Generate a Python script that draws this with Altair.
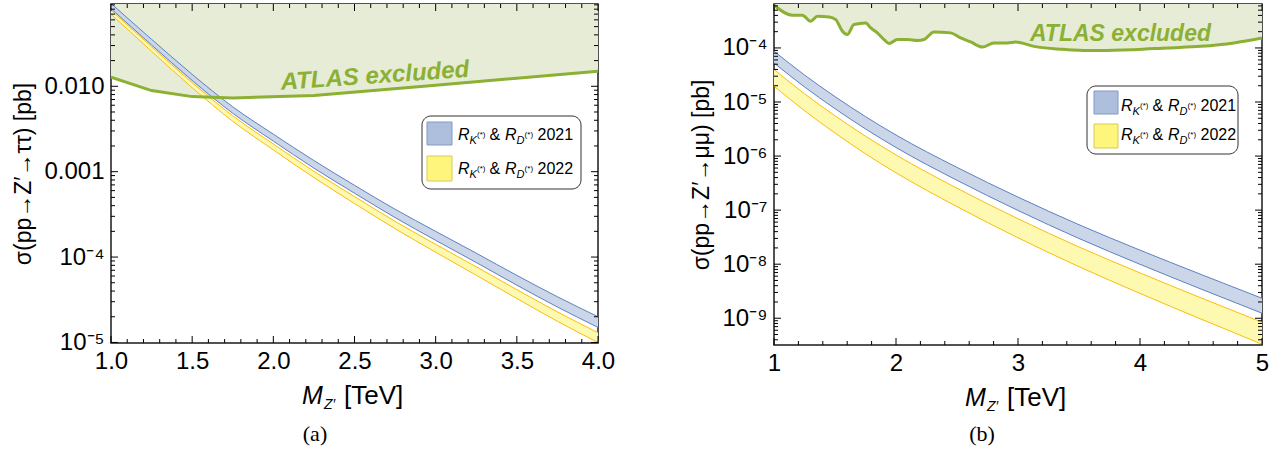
import altair as alt
import pandas as pd

FONT = "Liberation Sans"

# ---------------- panel (a): pp -> Z' -> tau tau ----------------
a_mass = [1.0, 1.25, 1.5, 1.75, 2.0, 2.25, 2.5, 2.75, 3.0, 3.25, 3.5, 3.75, 4.0]
a_2021_hi = [0.0933, 0.0355, 0.0138, 0.00575, 0.00275, 0.00135, 6.92e-4, 3.63e-4, 2.00e-4, 1.11e-4, 6.10e-5, 3.43e-5, 2.00e-5]
a_2021_lo = [0.0813, 0.0305, 0.01172, 0.00483, 0.00228, 0.00110, 5.60e-4, 2.90e-4, 1.57e-4, 8.63e-5, 4.69e-5, 2.60e-5, 1.50e-5]
a_2022_hi = [0.0776, 0.0290, 0.01102, 0.00451, 0.00211, 0.00101, 5.11e-4, 2.62e-4, 1.41e-4, 7.69e-5, 4.15e-5, 2.28e-5, 1.30e-5]
a_2022_lo = [0.0698, 0.0257, 0.00964, 0.00389, 0.00180, 8.53e-4, 4.24e-4, 2.15e-4, 1.14e-4, 6.12e-5, 3.27e-5, 1.77e-5, 9.98e-6]
a_atlas_mass = [1.0, 1.25, 1.5, 1.75, 2.25, 3.0, 4.0]
a_atlas_xsec = [0.01276, 0.00891, 0.00757, 0.00730, 0.00778, 0.0103, 0.0150]
a_x_major = [1.0, 1.5, 2.0, 2.5, 3.0, 3.5, 4.0]
a_x_minor = [1.1, 1.2, 1.3, 1.4, 1.6, 1.7, 1.8, 1.9, 2.1, 2.2, 2.3, 2.4, 2.6, 2.7, 2.8, 2.9,
             3.1, 3.2, 3.3, 3.4, 3.6, 3.7, 3.8, 3.9]
a_y_major = [1e-5, 1e-4, 1e-3, 1e-2]
a_y_minor = [2e-5, 3e-5, 4e-5, 5e-5, 6e-5, 7e-5, 8e-5, 9e-5,
             2e-4, 3e-4, 4e-4, 5e-4, 6e-4, 7e-4, 8e-4, 9e-4,
             2e-3, 3e-3, 4e-3, 5e-3, 6e-3, 7e-3, 8e-3, 9e-3,
             0.02, 0.03, 0.04, 0.05, 0.06, 0.07, 0.08, 0.09]
a_x_domain = [1.0, 4.0]
a_y_domain = [9.85e-6, 0.092]
a_note_pos = [2.626, 0.0131]

# ---------------- panel (b): pp -> Z' -> mu mu ----------------
b_mass = [1.0, 1.25, 1.5, 1.75, 2.0, 2.5, 3.0, 3.5, 4.0, 4.5, 5.0]
b_2021_hi = [8.71e-5, 3.16e-5, 1.259e-5, 5.37e-6, 2.45e-6, 6.17e-7, 1.74e-7, 5.37e-8, 1.82e-8, 6.46e-9, 2.34e-9]
b_2021_lo = [5.28e-5, 1.90e-5, 7.52e-6, 3.18e-6, 1.44e-6, 3.56e-7, 9.86e-8, 2.99e-8, 9.95e-9, 3.47e-9, 1.24e-9]
b_2022_hi = [3.99e-5, 1.42e-5, 5.57e-6, 2.33e-6, 1.05e-6, 2.54e-7, 6.92e-8, 2.08e-8, 6.89e-9, 2.38e-9, 8.43e-10]
b_2022_lo = [1.96e-5, 6.90e-6, 2.67e-6, 1.10e-6, 4.90e-7, 1.16e-7, 3.08e-8, 8.99e-9, 2.88e-9, 9.64e-10, 3.31e-10]
b_atlas_mass = [1.0, 1.15, 1.233, 1.30, 1.356, 1.451, 1.506, 1.561, 1.60, 1.656, 1.752, 1.793, 1.847,
                1.902, 1.943, 2.011, 2.093, 2.175, 2.23, 2.311, 2.448, 2.53, 2.612, 2.708, 2.803,
                2.913, 2.981, 3.131, 3.405, 3.678, 3.951, 4.225, 4.498, 4.77, 5.0]
b_atlas_xsec = [6.18e-4, 4.04e-4, 4.04e-4, 3.12e-4, 3.87e-4, 3.75e-4, 3.35e-4, 2.04e-4, 1.77e-4,
                2.71e-4, 2.90e-4, 2.34e-4, 1.90e-4, 1.43e-4, 1.21e-4, 1.43e-4, 1.43e-4, 1.37e-4,
                1.43e-4, 1.98e-4, 1.90e-4, 1.53e-4, 1.29e-4, 1.04e-4, 1.24e-4, 1.24e-4, 1.29e-4,
                1.07e-4, 9.3e-5, 8.95e-5, 9.3e-5, 1.0e-4, 1.07e-4, 1.24e-4, 1.53e-4]
b_x_major = [1, 2, 3, 4, 5]
b_x_minor = [1.2, 1.4, 1.6, 1.8, 2.2, 2.4, 2.6, 2.8, 3.2, 3.4, 3.6, 3.8, 4.2, 4.4, 4.6, 4.8]
b_y_major = [1e-9, 1e-8, 1e-7, 1e-6, 1e-5, 1e-4]
b_y_minor = [4e-10, 5e-10, 6e-10, 7e-10, 8e-10, 9e-10,
             2e-9, 3e-9, 4e-9, 5e-9, 6e-9, 7e-9, 8e-9, 9e-9,
             2e-8, 3e-8, 4e-8, 5e-8, 6e-8, 7e-8, 8e-8, 9e-8,
             2e-7, 3e-7, 4e-7, 5e-7, 6e-7, 7e-7, 8e-7, 9e-7,
             2e-6, 3e-6, 4e-6, 5e-6, 6e-6, 7e-6, 8e-6, 9e-6,
             2e-5, 3e-5, 4e-5, 5e-5, 6e-5, 7e-5, 8e-5, 9e-5,
             2e-4, 3e-4, 4e-4, 5e-4, 6e-4]
b_x_domain = [1, 5]
b_y_domain = [3.2e-10, 6.5e-4]
b_note_pos = [3.84, 1.83e-4]

legend_years = ["2021", "2022"]
note_text = "ATLAS excluded"

ATLAS_FILL = "#e6ecd6"
ATLAS_LINE = "#8bb033"
BLUE_FILL = "#cbd6e8"
BLUE_LINE = "#5d81c2"
YEL_FILL = "#fdf9b0"
YEL_LINE = "#fbbd0b"
SW_BLUE = "#adbfdc"
SW_BLUE_S = "#8299c4"
SW_YEL = "#fef57d"
SW_YEL_S = "#d9c95a"

LABEL_SIZE = 24
ONE = pd.DataFrame({"a": [0]})


def txt(text, x, y, size, style="normal", weight="normal", font=FONT, align="left", color="black"):
    return alt.Chart(ONE).mark_text(
        text=text, font=font, fontSize=size, fontStyle=style, fontWeight=weight,
        align=align, baseline="alphabetic", color=color
    ).encode(x=alt.value(x), y=alt.value(y))


def legend_layers(box, sw_x, sw_rows, text_x, baselines):
    out = [alt.Chart(ONE).mark_rect(fill="white", stroke="#333333", strokeWidth=1, cornerRadius=9)
           .encode(x=alt.value(box[0]), x2=alt.value(box[1]), y=alt.value(box[2]), y2=alt.value(box[3]))]
    fills = [(SW_BLUE, SW_BLUE_S), (SW_YEL, SW_YEL_S)]
    for (y1, y2), (f, s) in zip(sw_rows, fills):
        out.append(alt.Chart(ONE).mark_rect(fill=f, stroke=s, strokeWidth=1)
                   .encode(x=alt.value(sw_x[0]), x2=alt.value(sw_x[1]), y=alt.value(y1), y2=alt.value(y2)))
    for yr, b in zip(legend_years, baselines):
        x0 = text_x
        out += [
            txt("R", x0, b, 16, "italic"),
            txt("K", x0 + 11.6, b + 4, 11, "italic"),
            txt("(*)", x0 + 19.0, b - 3, 8),
            txt("&", x0 + 31.5, b, 16),
            txt("R", x0 + 47.0, b, 16, "italic"),
            txt("D", x0 + 58.6, b + 4, 11, "italic"),
            txt("(*)", x0 + 66.6, b - 3, 8),
            txt(yr, x0 + 79.5, b, 16),
        ]
    return out


def panel(p):
    W, H = p["W"], p["H"]
    xs = alt.Scale(domain=p["xdom"], nice=False, zero=False)
    ys = alt.Scale(type="log", domain=p["ydom"], nice=False)
    xaxis = alt.Axis(values=p["xmaj"], format=p["xfmt"], ticks=False, tickSize=0, domain=False, grid=False,
                     labelFontSize=LABEL_SIZE, labelFont=FONT, labelColor="black", labelPadding=6,
                     labelFlush=False, title=None)
    yaxis = alt.Axis(values=p["ymaj"], labelExpr=p["ylab"], ticks=False, tickSize=0, domain=False, grid=False,
                     labelFontSize=LABEL_SIZE, labelFont=FONT, labelColor="black", labelPadding=7,
                     title=p["ytitle"], titleFont=FONT, titleFontSize=23, titleFontWeight="normal",
                     titleColor="black", titlePadding=p["tpad"])

    def X(f):
        return alt.X(f, type="quantitative", scale=xs, axis=xaxis)

    def Y(f):
        return alt.Y(f, type="quantitative", scale=ys, axis=yaxis)

    atlas = pd.DataFrame({"m": p["am"], "s": p["asx"], "top": [p["ydom"][1]] * len(p["am"])})
    b1 = pd.DataFrame({"m": p["mass"], "hi": p["h21"], "lo": p["l21"]})
    b2 = pd.DataFrame({"m": p["mass"], "hi": p["h22"], "lo": p["l22"]})

    layers = [
        alt.Chart(atlas).mark_area(color=ATLAS_FILL, clip=True, interpolate=p["interp"])
        .encode(x=X("m"), y=Y("s"), y2=alt.Y2("top")),
        alt.Chart(b1).mark_area(color=BLUE_FILL, clip=True, interpolate="monotone")
        .encode(x=X("m"), y=Y("lo"), y2=alt.Y2("hi")),
        alt.Chart(b1).mark_line(color=BLUE_LINE, strokeWidth=1, clip=True, interpolate="monotone")
        .encode(x=X("m"), y=Y("hi")),
        alt.Chart(b1).mark_line(color=BLUE_LINE, strokeWidth=1, clip=True, interpolate="monotone")
        .encode(x=X("m"), y=Y("lo")),
        alt.Chart(b2).mark_area(color=YEL_FILL, clip=True, interpolate="monotone")
        .encode(x=X("m"), y=Y("lo"), y2=alt.Y2("hi")),
        alt.Chart(b2).mark_line(color=YEL_LINE, strokeWidth=1, clip=True, interpolate="monotone")
        .encode(x=X("m"), y=Y("hi")),
        alt.Chart(b2).mark_line(color=YEL_LINE, strokeWidth=1, clip=True, interpolate="monotone")
        .encode(x=X("m"), y=Y("lo")),
        alt.Chart(atlas).mark_line(color=ATLAS_LINE, strokeWidth=3, clip=True, interpolate=p["interp"])
        .encode(x=X("m"), y=Y("s")),
        alt.Chart(pd.DataFrame({"m": [p["note"][0]], "s": [p["note"][1]]}))
        .mark_text(text=note_text, font=FONT, fontSize=p["note_size"], fontWeight="bold", fontStyle="italic",
                   color=ATLAS_LINE, angle=p["note_angle"], align="center", baseline="middle")
        .encode(x=X("m"), y=Y("s")),
    ]
    # frame ticks (inward, all four sides)
    for vals, ln in ((p["xmaj"], 7), (p["xmin"], 4)):
        d = pd.DataFrame({"m": vals})
        layers.append(alt.Chart(d).mark_rule(color="black", strokeWidth=1)
                      .encode(x=X("m"), y=alt.value(H), y2=alt.value(H - ln)))
        layers.append(alt.Chart(d).mark_rule(color="black", strokeWidth=1)
                      .encode(x=X("m"), y=alt.value(0), y2=alt.value(ln)))
    for vals, ln in ((p["ymaj"], 7), (p["ymin"], 4)):
        d = pd.DataFrame({"s": vals})
        layers.append(alt.Chart(d).mark_rule(color="black", strokeWidth=1)
                      .encode(y=Y("s"), x=alt.value(0), x2=alt.value(ln)))
        layers.append(alt.Chart(d).mark_rule(color="black", strokeWidth=1)
                      .encode(y=Y("s"), x=alt.value(W), x2=alt.value(W - ln)))
    layers += legend_layers(**p["legend"])
    # x title  M_Z' [TeV]
    layers += [
        txt("M", 191, H + 61, 25, "italic"),
        txt("Z′", 213, H + 66, 14, "italic"),
        txt("[TeV]", 233, H + 61, 26),
        txt(p["caption"], p["cap_x"], 437, 22, font="Liberation Serif", align="center"),
    ]
    return alt.layer(*layers).properties(width=W, height=H)


left = panel(dict(
    W=487, H=339, mass=a_mass, h21=a_2021_hi, l21=a_2021_lo, h22=a_2022_hi, l22=a_2022_lo,
    am=a_atlas_mass, asx=a_atlas_xsec, xdom=a_x_domain, ydom=a_y_domain,
    xmaj=a_x_major, xmin=a_x_minor, ymaj=a_y_major, ymin=a_y_minor, xfmt=".1f",
    ylab="datum.value < 5e-5 ? '10⁻⁵' : datum.value < 5e-4 ? '10⁻⁴' : datum.value < 5e-3 ? '0.001' : '0.010'",
    ytitle="σ(pp→Z′→ττ) [pb]", tpad=8, interp="linear", note=a_note_pos, note_size=24, note_angle=356,
    legend=dict(box=(311, 470, 112, 185), sw_x=(316, 341), sw_rows=[(118, 141), (152, 177)],
                text_x=347, baselines=[136, 170]),
    caption="(a)", cap_x=204,
))

right = panel(dict(
    W=488, H=341, mass=b_mass, h21=b_2021_hi, l21=b_2021_lo, h22=b_2022_hi, l22=b_2022_lo,
    am=b_atlas_mass, asx=b_atlas_xsec, xdom=b_x_domain, ydom=b_y_domain,
    xmaj=b_x_major, xmin=b_x_minor, ymaj=b_y_major, ymin=b_y_minor, xfmt="d",
    ylab="'10⁻' + ['0','¹','²','³','⁴','⁵','⁶','⁷','⁸','⁹'][round(-log(datum.value)/LN10)]",
    ytitle="σ(pp→Z′→μμ) [pb]", tpad=8, interp="monotone", note=b_note_pos, note_size=23, note_angle=0,
    legend=dict(box=(313, 464, 82, 150), sw_x=(320, 344), sw_rows=[(87, 110), (120, 144)],
                text_x=347, baselines=[107, 136]),
    caption="(b)", cap_x=208,
))

chart = alt.hconcat(left, right, spacing=74).properties(
    padding={"left": 12, "top": 2, "right": 0, "bottom": 0}
).configure(background="white").configure_view(stroke="#1a1a1a", strokeWidth=1.5)

chart.save("out.html", embed_options={"renderer": "svg", "actions": False})
